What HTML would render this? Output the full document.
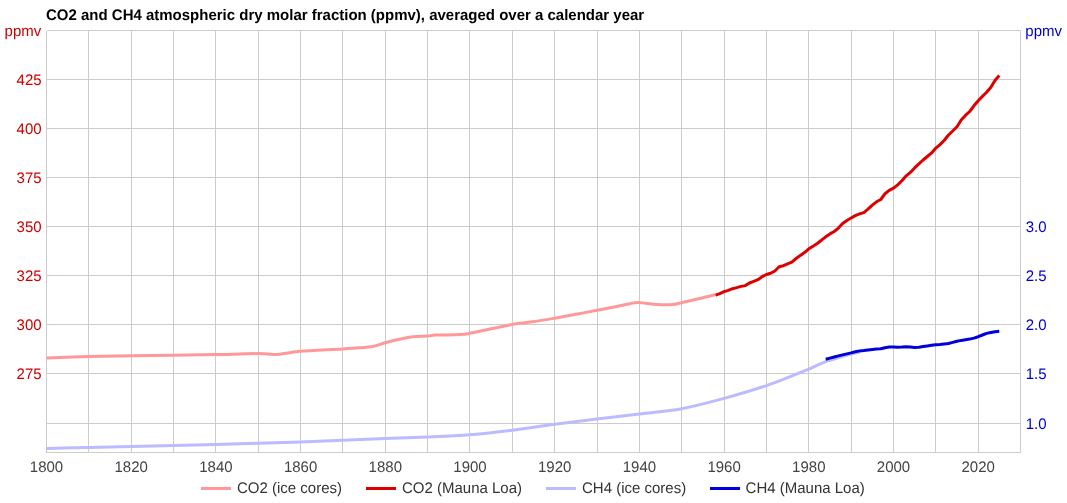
<!DOCTYPE html>
<html><head><meta charset="utf-8"><title>CO2 and CH4</title>
<style>
html,body{margin:0;padding:0;background:#fff;}
svg{display:block;font-family:"Liberation Sans",sans-serif;font-size:15px;}
</style></head>
<body>
<svg width="1067" height="503" viewBox="0 0 1067 503">
<rect width="1067" height="503" fill="#fff"/>
<text transform="translate(46.0,20.0) scale(1,1.02) skewX(0.05)" fill="#000" font-weight="bold">CO2 and CH4 atmospheric dry molar fraction (ppmv), averaged over a calendar year</text>
<g stroke="#ccc" stroke-width="1" shape-rendering="crispEdges">
<line x1="46.5" y1="30.5" x2="46.5" y2="452.5"/>
<line x1="88.5" y1="30.5" x2="88.5" y2="452.5"/>
<line x1="131.5" y1="30.5" x2="131.5" y2="452.5"/>
<line x1="173.5" y1="30.5" x2="173.5" y2="452.5"/>
<line x1="215.5" y1="30.5" x2="215.5" y2="452.5"/>
<line x1="258.5" y1="30.5" x2="258.5" y2="452.5"/>
<line x1="300.5" y1="30.5" x2="300.5" y2="452.5"/>
<line x1="342.5" y1="30.5" x2="342.5" y2="452.5"/>
<line x1="385.5" y1="30.5" x2="385.5" y2="452.5"/>
<line x1="427.5" y1="30.5" x2="427.5" y2="452.5"/>
<line x1="469.5" y1="30.5" x2="469.5" y2="452.5"/>
<line x1="512.5" y1="30.5" x2="512.5" y2="452.5"/>
<line x1="554.5" y1="30.5" x2="554.5" y2="452.5"/>
<line x1="597.5" y1="30.5" x2="597.5" y2="452.5"/>
<line x1="639.5" y1="30.5" x2="639.5" y2="452.5"/>
<line x1="681.5" y1="30.5" x2="681.5" y2="452.5"/>
<line x1="724.5" y1="30.5" x2="724.5" y2="452.5"/>
<line x1="766.5" y1="30.5" x2="766.5" y2="452.5"/>
<line x1="808.5" y1="30.5" x2="808.5" y2="452.5"/>
<line x1="851.5" y1="30.5" x2="851.5" y2="452.5"/>
<line x1="893.5" y1="30.5" x2="893.5" y2="452.5"/>
<line x1="935.5" y1="30.5" x2="935.5" y2="452.5"/>
<line x1="978.5" y1="30.5" x2="978.5" y2="452.5"/>
<line x1="1020.5" y1="30.5" x2="1020.5" y2="452.5"/>
<line x1="46.5" y1="30.5" x2="1020.5" y2="30.5"/>
<line x1="46.5" y1="79.5" x2="1020.5" y2="79.5"/>
<line x1="46.5" y1="128.5" x2="1020.5" y2="128.5"/>
<line x1="46.5" y1="177.5" x2="1020.5" y2="177.5"/>
<line x1="46.5" y1="226.5" x2="1020.5" y2="226.5"/>
<line x1="46.5" y1="275.5" x2="1020.5" y2="275.5"/>
<line x1="46.5" y1="324.5" x2="1020.5" y2="324.5"/>
<line x1="46.5" y1="373.5" x2="1020.5" y2="373.5"/>
<line x1="46.5" y1="423.5" x2="1020.5" y2="423.5"/>
<line x1="46.5" y1="452.5" x2="1020.5" y2="452.5"/>
</g>
<text transform="translate(4.6,35.8) scale(1,1.02) skewX(0.05)" fill="#cc0000">ppmv</text>
<text transform="translate(1025.3,35.8) scale(1,1.02) skewX(0.05)" fill="#0000cc">ppmv</text>
<text transform="translate(41.6,85.0) scale(1,1.02) skewX(0.05)" text-anchor="end" fill="#cc0000">425</text>
<text transform="translate(41.6,134.0) scale(1,1.02) skewX(0.05)" text-anchor="end" fill="#cc0000">400</text>
<text transform="translate(41.6,183.0) scale(1,1.02) skewX(0.05)" text-anchor="end" fill="#cc0000">375</text>
<text transform="translate(41.6,232.0) scale(1,1.02) skewX(0.05)" text-anchor="end" fill="#cc0000">350</text>
<text transform="translate(41.6,281.0) scale(1,1.02) skewX(0.05)" text-anchor="end" fill="#cc0000">325</text>
<text transform="translate(41.6,330.0) scale(1,1.02) skewX(0.05)" text-anchor="end" fill="#cc0000">300</text>
<text transform="translate(41.6,379.0) scale(1,1.02) skewX(0.05)" text-anchor="end" fill="#cc0000">275</text>
<text transform="translate(1025.7,232.0) scale(1,1.02) skewX(0.05)" fill="#0000cc">3.0</text>
<text transform="translate(1025.7,281.0) scale(1,1.02) skewX(0.05)" fill="#0000cc">2.5</text>
<text transform="translate(1025.7,330.0) scale(1,1.02) skewX(0.05)" fill="#0000cc">2.0</text>
<text transform="translate(1025.7,379.0) scale(1,1.02) skewX(0.05)" fill="#0000cc">1.5</text>
<text transform="translate(1025.7,429.0) scale(1,1.02) skewX(0.05)" fill="#0000cc">1.0</text>
<text transform="translate(46.5,472.0) scale(1,1.02) skewX(0.05)" text-anchor="middle" fill="#444">1800</text>
<text transform="translate(131.2,472.0) scale(1,1.02) skewX(0.05)" text-anchor="middle" fill="#444">1820</text>
<text transform="translate(215.9,472.0) scale(1,1.02) skewX(0.05)" text-anchor="middle" fill="#444">1840</text>
<text transform="translate(300.6,472.0) scale(1,1.02) skewX(0.05)" text-anchor="middle" fill="#444">1860</text>
<text transform="translate(385.3,472.0) scale(1,1.02) skewX(0.05)" text-anchor="middle" fill="#444">1880</text>
<text transform="translate(470.0,472.0) scale(1,1.02) skewX(0.05)" text-anchor="middle" fill="#444">1900</text>
<text transform="translate(554.7,472.0) scale(1,1.02) skewX(0.05)" text-anchor="middle" fill="#444">1920</text>
<text transform="translate(639.4,472.0) scale(1,1.02) skewX(0.05)" text-anchor="middle" fill="#444">1940</text>
<text transform="translate(724.1,472.0) scale(1,1.02) skewX(0.05)" text-anchor="middle" fill="#444">1960</text>
<text transform="translate(808.8,472.0) scale(1,1.02) skewX(0.05)" text-anchor="middle" fill="#444">1980</text>
<text transform="translate(893.5,472.0) scale(1,1.02) skewX(0.05)" text-anchor="middle" fill="#444">2000</text>
<text transform="translate(978.2,472.0) scale(1,1.02) skewX(0.05)" text-anchor="middle" fill="#444">2020</text>
<g fill="none" stroke-width="3" stroke-linejoin="round">
<path d="M46.5,358.1 C53.6,357.8 74.7,356.9 88.8,356.5 C103.0,356.1 117.1,355.9 131.2,355.7 C145.3,355.5 159.4,355.5 173.5,355.3 C187.7,355.1 201.8,354.9 215.9,354.6 C230.0,354.3 248.2,353.6 258.2,353.6 C268.3,353.6 271.1,354.6 276.0,354.5 C281.0,354.4 283.8,353.4 287.9,352.9 C292.0,352.4 291.4,352.0 300.6,351.3 C309.8,350.6 331.1,349.6 342.9,348.9 C354.7,348.1 364.2,347.8 371.3,346.8 C378.4,345.8 378.7,344.3 385.3,342.7 C391.8,341.1 403.6,338.2 410.7,337.1 C417.7,336.0 423.5,336.4 427.6,336.1 C431.8,335.8 430.3,335.4 435.7,335.1 C441.0,334.9 454.1,334.9 459.8,334.6 C465.5,334.3 464.8,334.3 470.0,333.3 C475.2,332.3 484.1,330.3 491.2,328.8 C498.2,327.3 507.2,325.4 512.3,324.4 C517.4,323.4 518.3,323.4 521.6,323.0 C525.0,322.6 526.7,322.6 532.2,321.8 C537.7,321.0 547.4,319.4 554.7,318.2 C561.9,316.9 568.8,315.6 575.8,314.3 C582.9,313.0 589.7,311.7 597.0,310.3 C604.4,308.9 614.2,307.0 619.9,305.8 C625.5,304.6 627.9,303.9 630.9,303.4 C633.9,302.8 635.6,302.5 638.1,302.5 C640.6,302.5 642.5,302.9 645.7,303.2 C648.9,303.5 652.6,304.3 657.2,304.5 C661.7,304.7 668.7,304.8 672.8,304.5 C676.9,304.2 677.4,303.6 681.7,302.7 C686.0,301.8 693.0,300.1 698.7,298.8 C704.3,297.5 712.8,295.3 715.6,294.6" stroke="#ff9999"/>
<path d="M46.5,448.5 C53.6,448.3 74.7,447.8 88.8,447.4 C103.0,447.0 117.1,446.7 131.2,446.4 C145.3,446.1 159.4,445.9 173.5,445.6 C187.7,445.3 201.8,444.9 215.9,444.5 C230.0,444.1 244.1,443.7 258.2,443.3 C272.4,442.9 286.5,442.4 300.6,441.9 C314.7,441.4 328.8,440.8 342.9,440.2 C357.1,439.6 371.2,439.1 385.3,438.6 C399.4,438.1 413.5,437.7 427.6,437.1 C441.7,436.5 455.9,436.0 470.0,434.8 C484.1,433.6 498.2,432.0 512.3,430.2 C526.4,428.4 540.6,426.0 554.7,424.2 C568.8,422.4 582.9,420.8 597.0,419.1 C611.1,417.4 625.3,415.6 639.4,413.9 C653.5,412.2 667.6,411.3 681.7,408.7 C695.8,406.1 709.9,402.2 724.1,398.4 C738.2,394.5 752.3,390.5 766.4,385.6 C780.5,380.7 798.9,373.1 808.8,369.1 C818.6,365.1 820.1,363.7 825.7,361.6 C831.3,359.5 838.4,357.7 842.6,356.4 C846.9,355.1 848.3,354.7 851.1,354.0 C853.9,353.3 858.2,352.5 859.6,352.2" stroke="#bbbbff"/>
<path d="M715.6,295.1 L719.8,293.6 L724.1,291.7 L728.3,290.3 L732.5,288.7 L736.8,287.6 L741.0,286.4 L745.2,285.6 L749.5,283.0 L753.7,281.4 L757.9,279.7 L762.2,276.6 L766.4,274.5 L770.6,273.3 L774.9,271.0 L779.1,266.7 L783.4,265.7 L787.6,263.8 L791.8,262.1 L796.1,258.5 L800.3,255.4 L804.5,252.6 L808.8,248.8 L813.0,246.2 L817.2,243.5 L821.5,240.2 L825.7,236.8 L829.9,233.9 L834.2,231.5 L838.4,228.1 L842.6,223.5 L846.9,220.5 L851.1,218.0 L855.3,215.6 L859.6,213.9 L863.8,212.6 L868.0,209.2 L872.3,205.2 L876.5,201.8 L880.8,199.5 L885.0,193.7 L889.2,190.4 L893.5,188.1 L897.7,184.9 L901.9,180.8 L906.2,175.8 L910.4,172.4 L914.6,167.9 L918.9,163.8 L923.1,160.0 L927.3,156.5 L931.6,152.9 L935.8,148.1 L940.0,144.6 L944.3,140.3 L948.5,135.0 L952.7,131.0 L957.0,126.7 L961.2,120.0 L965.4,115.4 L969.7,111.5 L973.9,105.8 L978.2,100.7 L982.4,96.4 L986.6,92.3 L990.9,87.3 L995.1,80.3 L999.3,75.4" stroke="#dd0000"/>
<path d="M825.7,359.2 L829.9,358.1 L834.2,357.0 L838.4,355.9 L842.6,354.9 L846.9,353.9 L851.1,352.9 L855.3,351.8 L859.6,350.9 L863.8,350.6 L868.0,350.0 L872.3,349.4 L876.5,349.1 L880.8,348.7 L885.0,347.7 L889.2,347.0 L893.5,347.1 L897.7,347.3 L901.9,347.1 L906.2,346.7 L910.4,347.0 L914.6,347.4 L918.9,347.3 L923.1,346.6 L927.3,345.9 L931.6,345.3 L935.8,344.7 L940.0,344.4 L944.3,343.9 L948.5,343.5 L952.7,342.4 L957.0,341.3 L961.2,340.4 L965.4,339.7 L969.7,339.1 L973.9,338.1 L978.2,336.7 L982.4,335.0 L986.6,333.4 L990.9,332.5 L995.1,331.7 L999.3,331.2" stroke="#0000dd"/>
</g>
<g stroke-width="3">
<line x1="201" y1="488.5" x2="231" y2="488.5" stroke="#ff9999"/>
<line x1="366" y1="488.5" x2="396" y2="488.5" stroke="#dd0000"/>
<line x1="546" y1="488.5" x2="576" y2="488.5" stroke="#bbbbff"/>
<line x1="710" y1="488.5" x2="740" y2="488.5" stroke="#0000dd"/>
</g>
<g fill="#333">
<text transform="translate(237.0,493.0) scale(1,1.02) skewX(0.05)" fill="#333">CO2 (ice cores)</text>
<text transform="translate(402.0,493.0) scale(1,1.02) skewX(0.05)" fill="#333">CO2 (Mauna Loa)</text>
<text transform="translate(582.0,493.0) scale(1,1.02) skewX(0.05)" fill="#333">CH4 (ice cores)</text>
<text transform="translate(745.6,493.0) scale(1,1.02) skewX(0.05)" fill="#333">CH4 (Mauna Loa)</text>
</g>
</svg>
</body></html>
